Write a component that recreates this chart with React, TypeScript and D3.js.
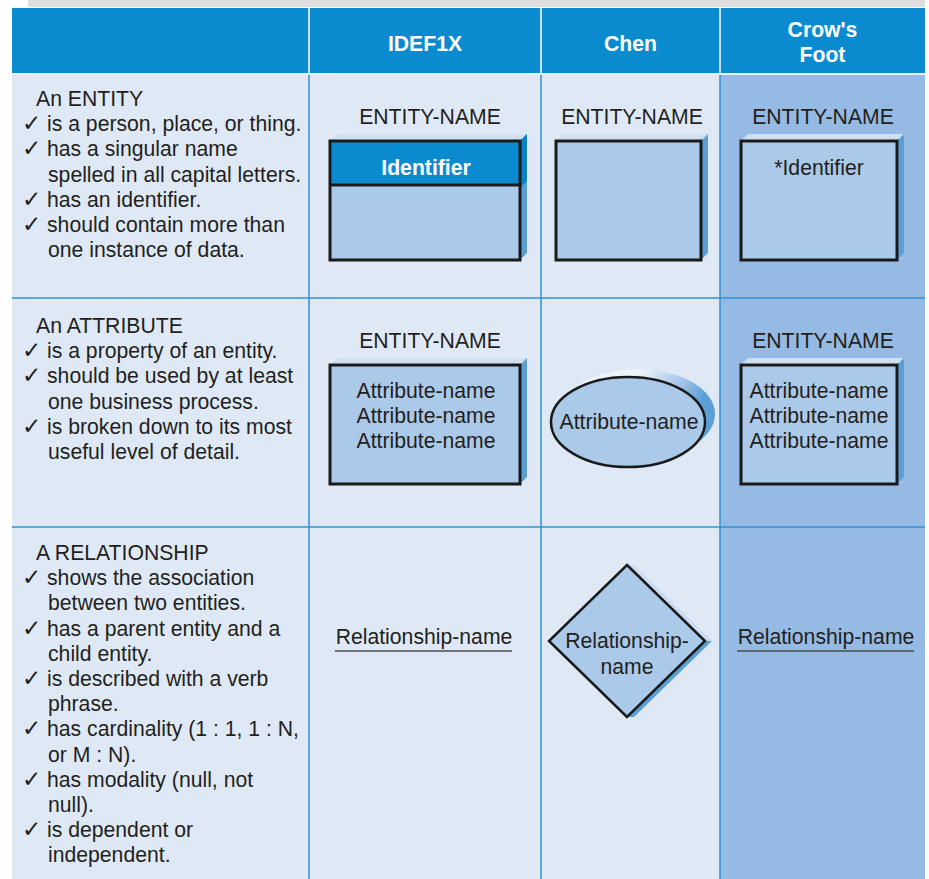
import React from "react";
import * as d3 from "d3";

// ---------- data ----------
const columnHeaders: string[][] = [[""], ["IDEF1X"], ["Chen"], ["Crow's", "Foot"]];
const rowTitles: string[] = ["An ENTITY", "An ATTRIBUTE", "A RELATIONSHIP"];
// each bullet: array of wrapped lines
const entityBullets: string[][] = [
  ["is a person, place, or thing."],
  ["has a singular name", "spelled in all capital letters."],
  ["has an identifier."],
  ["should contain more than", "one instance of data."],
];
const attributeBullets: string[][] = [
  ["is a property of an entity."],
  ["should be used by at least", "one business process."],
  ["is broken down to its most", "useful level of detail."],
];
const relationshipBullets: string[][] = [
  ["shows the association", "between two entities."],
  ["has a parent entity and a", "child entity."],
  ["is described with a verb", "phrase."],
  ["has cardinality (1 : 1, 1 : N,", "or M : N)."],
  ["has modality (null, not", "null)."],
  ["is dependent or", "independent."],
];
const entityName = "ENTITY-NAME";
const identifierLabel = "Identifier";
const crowIdentifier = "*Identifier";
const attributeNames: string[] = ["Attribute-name", "Attribute-name", "Attribute-name"];
const relationshipName = "Relationship-name";
const chenRelLines: string[] = ["Relationship-", "name"];

// ---------- layout / style ----------
const W = 929;
const H = 879;
const colEdges = [12, 309, 541, 720, 925];
const headerTop = 8;
const headerBottom = 73;
const rowEdges = [74, 298, 527, 879];
const C = {
  header: "#0b8bcf",
  body: "#dfe9f5",
  crow: "#95bae3",
  box: "#abc9e9",
  side: "#5b9fd6",
  top: "#cfe0f3",
  grid: "#3290d2",
  text: "#231f20",
};
const FONT = "'Liberation Sans', Arial, Helvetica, sans-serif";
const FS = 21.2;
const LH = 25.2;
const D = 7; // extrusion depth

const xCol = d3.scaleOrdinal<number, number>().domain([0, 1, 2, 3]).range([0, 1, 2, 3].map((i) => (colEdges[i] + colEdges[i + 1]) / 2));

function Box3D({ x0, y0, x1, y1, band, children }: any) {
  const top = `${x0},${y0} ${x0 + D},${y0 - D} ${x1 + D},${y0 - D} ${x1},${y0}`;
  const side = `${x1},${y0} ${x1 + D},${y0 - D} ${x1 + D},${y1 - D} ${x1},${y1}`;
  return (
    <g>
      <polygon points={top} fill={C.top} />
      <polygon points={side} fill={C.side} />
      {band ? (
        <polygon points={`${x1},${y0} ${x1 + D},${y0 - D} ${x1 + D},${band - D + 3} ${x1},${band + 3}`} fill="#0a82c8" />
      ) : null}
      <rect x={x0} y={y0} width={x1 - x0} height={y1 - y0} fill={C.box} />
      {band ? <rect x={x0} y={y0} width={x1 - x0} height={band - y0} fill={C.header} /> : null}
      {band ? <line x1={x0} x2={x1} y1={band} y2={band} stroke="#1a1a1a" strokeWidth={3} /> : null}
      <rect x={x0} y={y0} width={x1 - x0} height={y1 - y0} fill="none" stroke="#1a1a1a" strokeWidth={3} />
      {children}
    </g>
  );
}

function Bullets({ title, bullets, baseline }: { title: string; bullets: string[][]; baseline: number }) {
  const lines: { check: boolean; text: string }[] = [];
  bullets.forEach((b) => b.forEach((t, i) => lines.push({ check: i === 0, text: t })));
  return (
    <g fontFamily={FONT} fontSize={FS} fill={C.text}>
      <text x={36} y={baseline}>{title}</text>
      {lines.map((l, i) => (
        <g key={i}>
          {l.check ? (
            <text x={22} y={baseline + (i + 1) * LH} fontFamily="'DejaVu Sans', sans-serif" fontSize={23}>✓</text>
          ) : null}
          <text x={l.check ? 47 : 48} y={baseline + (i + 1) * LH}>{l.text}</text>
        </g>
      ))}
    </g>
  );
}

export default function App() {
  const diamond = d3.line<[number, number]>().curve(d3.curveLinearClosed);
  const cx = 627, cy = 641, dx = 78, dy = 76;
  const dPts: [number, number][] = [[cx, cy - dy], [cx + dx, cy], [cx, cy + dy], [cx - dx, cy]];
  const sh = 7;
  const shadowUpper: [number, number][] = [[cx, cy - dy], [cx + sh, cy - dy], [cx + dx + sh, cy], [cx + dx, cy]];
  const shadowLower: [number, number][] = [[cx + dx, cy], [cx + dx + sh, cy], [cx + sh, cy + dy], [cx, cy + dy]];

  return (
    <svg width={W} height={H} style={{ position: "absolute", left: 0, top: 0, display: "block" }}>
      <defs>
        <linearGradient id="ellShadow" x1="0" y1="0" x2="1" y2="0.4">
          <stop offset="0.45" stopColor="#eef4fb" />
          <stop offset="0.75" stopColor="#9cc0e6" />
          <stop offset="0.9" stopColor={C.side} />
        </linearGradient>
      </defs>
      <rect x={0} y={0} width={W} height={H} fill="#fff" />
      <rect x={28} y={0} width={colEdges[4] - 28} height={7} fill="#dedede" />
      {/* header */}
      <rect x={colEdges[0]} y={headerTop} width={colEdges[4] - colEdges[0]} height={headerBottom - headerTop} fill={C.header} />
      {/* body */}
      <rect x={colEdges[0]} y={rowEdges[0] + 1} width={colEdges[3] - colEdges[0]} height={H - rowEdges[0]} fill={C.body} />
      <rect x={colEdges[3]} y={rowEdges[0] + 1} width={colEdges[4] - colEdges[3]} height={H - rowEdges[0]} fill={C.crow} />
      {/* header dividers */}
      {colEdges.slice(1, 4).map((x, i) => (
        <line key={"hd" + i} x1={x} x2={x} y1={headerTop} y2={headerBottom} stroke="#fff" strokeWidth={1.5} />
      ))}
      <line x1={colEdges[0]} x2={colEdges[4]} y1={rowEdges[0]} y2={rowEdges[0]} stroke="#e8f0f8" strokeWidth={2} />
      {/* grid */}
      {colEdges.slice(1, 4).map((x, i) => (
        <line key={"v" + i} x1={x} x2={x} y1={rowEdges[0] + 1} y2={H} stroke={C.grid} strokeWidth={1.5} />
      ))}
      {rowEdges.slice(1, 3).map((y, i) => (
        <line key={"h" + i} x1={colEdges[0]} x2={colEdges[4]} y1={y} y2={y} stroke={C.grid} strokeWidth={1.5} />
      ))}
      {/* header text */}
      <g fontFamily={FONT} fontSize={FS} fontWeight="bold" fill="#fff" textAnchor="middle">
        {columnHeaders.map((h, i) =>
          h.map((t, j) => (
            <text key={i + "-" + j} x={xCol(i)} y={h.length === 1 ? 50.5 : 36.5 + j * 25}>{t}</text>
          ))
        )}
      </g>
      {/* left column */}
      <Bullets title={rowTitles[0]} bullets={entityBullets} baseline={106} />
      <Bullets title={rowTitles[1]} bullets={attributeBullets} baseline={333} />
      <Bullets title={rowTitles[2]} bullets={relationshipBullets} baseline={560} />

      {/* row 1: entity */}
      <g fontFamily={FONT} fontSize={FS} fill={C.text} textAnchor="middle">
        <text x={430} y={123.5}>{entityName}</text>
        <text x={632} y={123.5}>{entityName}</text>
        <text x={823} y={123.5}>{entityName}</text>
      </g>
      <Box3D x0={330} y0={141} x1={520} y1={260} band={185}>
        <text x={426} y={174.5} fontFamily={FONT} fontSize={FS} fontWeight="bold" fill="#fff" textAnchor="middle">{identifierLabel}</text>
      </Box3D>
      <Box3D x0={556} y0={141} x1={701} y1={260} />
      <Box3D x0={741} y0={141} x1={897} y1={260}>
        <text x={819} y={174.5} fontFamily={FONT} fontSize={FS} fill={C.text} textAnchor="middle">{crowIdentifier}</text>
      </Box3D>

      {/* row 2: attribute */}
      <g fontFamily={FONT} fontSize={FS} fill={C.text} textAnchor="middle">
        <text x={430} y={347.5}>{entityName}</text>
        <text x={823} y={347.5}>{entityName}</text>
      </g>
      <Box3D x0={330} y0={365} x1={520} y1={484}>
        {attributeNames.map((a, i) => (
          <text key={i} x={426} y={398 + i * 25} fontFamily={FONT} fontSize={FS} fill={C.text} textAnchor="middle">{a}</text>
        ))}
      </Box3D>
      <Box3D x0={741} y0={365} x1={897} y1={484}>
        {attributeNames.map((a, i) => (
          <text key={i} x={819} y={398 + i * 25} fontFamily={FONT} fontSize={FS} fill={C.text} textAnchor="middle">{a}</text>
        ))}
      </Box3D>
      <ellipse cx={638} cy={414} rx={77} ry={45} fill="url(#ellShadow)" />
      <ellipse cx={628} cy={422} rx={77} ry={45} fill={C.box} stroke="#1a1a1a" strokeWidth={2.5} />
      <text x={629} y={429} fontFamily={FONT} fontSize={FS} fill={C.text} textAnchor="middle">{attributeNames[0]}</text>

      {/* row 3: relationship */}
      <g fontFamily={FONT} fontSize={FS} fill={C.text} textAnchor="middle">
        <text x={424} y={644}>{relationshipName}</text>
        <text x={826} y={644}>{relationshipName}</text>
      </g>
      <line x1={335} x2={512} y1={651} y2={651} stroke="#4a4a4a" strokeWidth={1.5} />
      <line x1={737} x2={914} y1={651} y2={651} stroke="#4a4a4a" strokeWidth={1.5} />
      <path d={diamond(shadowUpper) || ""} fill="#c9dcf1" />
      <path d={diamond(shadowLower) || ""} fill={C.side} />
      <path d={diamond(dPts) || ""} fill={C.box} stroke="#1a1a1a" strokeWidth={2.5} strokeLinejoin="miter" />
      {chenRelLines.map((t, i) => (
        <text key={i} x={cx} y={648 + i * 26} fontFamily={FONT} fontSize={FS} fill={C.text} textAnchor="middle">{t}</text>
      ))}
    </svg>
  );
}
